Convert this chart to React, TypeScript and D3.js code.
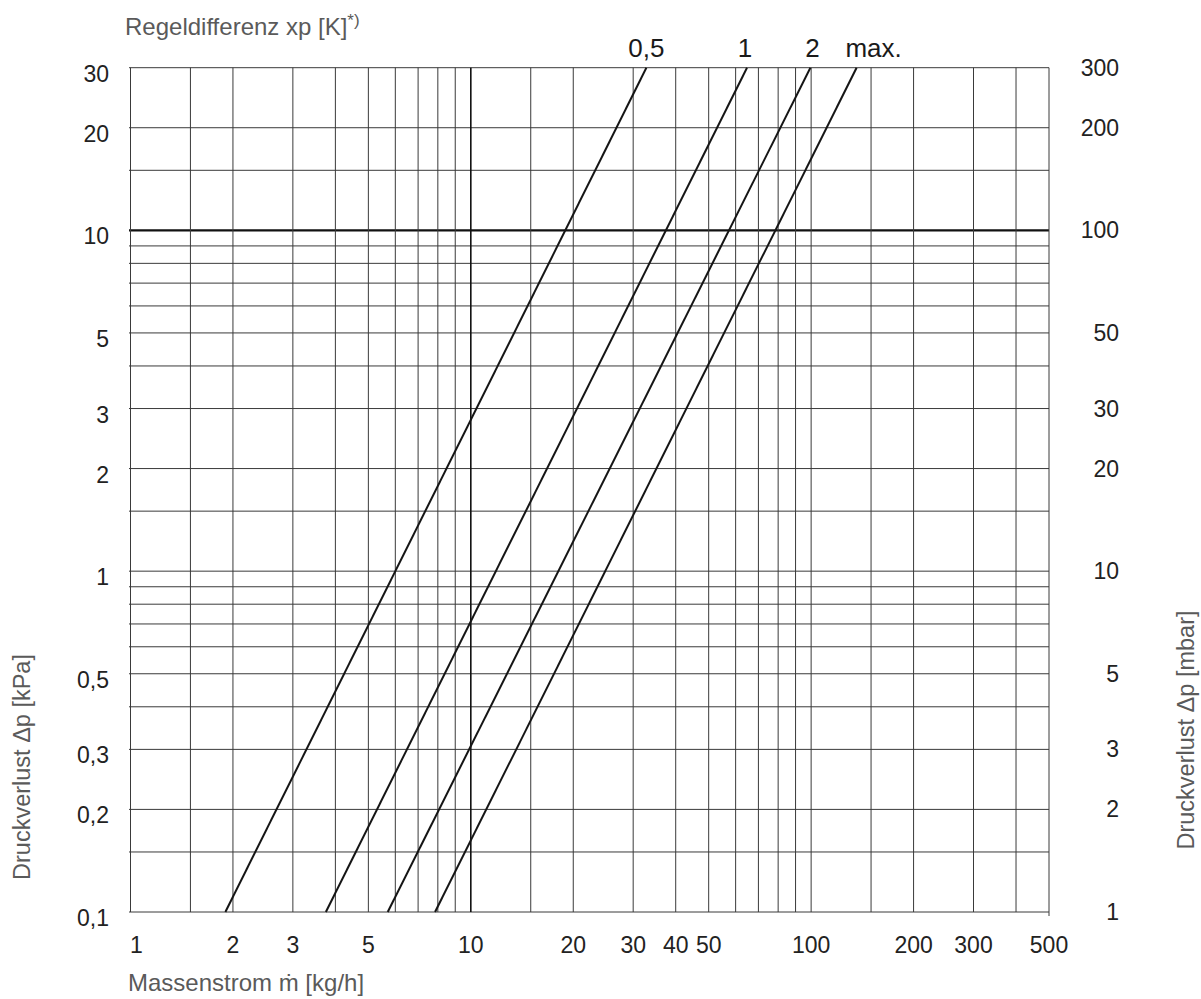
import React from "react";
import * as d3 from "d3";

// ---- data ----
const xGridValues = [1, 1.5, 2, 3, 4, 5, 6, 7, 8, 9, 10, 15, 20, 30, 40, 50, 60, 70, 80, 90, 100, 150, 200, 300, 400, 500];
const yGridValues = [0.1, 0.15, 0.2, 0.3, 0.4, 0.5, 0.6, 0.7, 0.8, 0.9, 1, 1.5, 2, 3, 4, 5, 6, 7, 8, 9, 10, 15, 20, 30];
const xTickValues = [1, 2, 3, 5, 10, 20, 30, 40, 50, 100, 200, 300, 500];
const yLeftTickValues = [0.1, 0.2, 0.3, 0.5, 1, 2, 3, 5, 10, 20, 30];
const yRightTickValues = [1, 2, 3, 5, 10, 20, 30, 50, 100, 200, 300]; // mbar
const seriesNames = ["0,5", "1", "2", "max."];
const flowAtMinDp = [1.9, 3.75, 5.7, 7.85]; // kg/h at 0.1 kPa
const flowAtMaxDp = [32.8, 64.8, 99.5, 136]; // kg/h at 30 kPa
const dpMin = 0.1;
const dpMax = 30;
const flowMin = 1;
const flowMax = 500;

// ---- layout ----
const W = 1201;
const H = 999;
const left = 130.5;
const right = 1049;
const top = 67.7;
const bottom = 912;
const FONT = "'Liberation Sans', Arial, Helvetica, sans-serif";
const labelDx = [0, -2, 2, 17];

const fmt = (v: number) => String(v).replace(".", ",");

export default function App() {
  const x = d3.scaleLog().domain([flowMin, flowMax]).range([left, right]);
  const y = d3.scaleLog().domain([dpMin, dpMax]).range([bottom, top]);
  const yMbar = d3.scaleLog().domain([dpMin * 10, dpMax * 10]).range([bottom, top]);
  const line = d3
    .line<[number, number]>()
    .x((d) => x(d[0]))
    .y((d) => y(d[1]));

  return (
    <svg
      width={W}
      height={H}
      style={{ position: "absolute", left: 0, top: 0, display: "block", background: "#fff" }}
      fontFamily={FONT}
    >
      <rect x={0} y={0} width={W} height={H} fill="#fff" />
      {/* horizontal grid */}
      {yGridValues.map((v) => (
        <line
          key={"h" + v}
          x1={left - 1.5}
          x2={right}
          y1={y(v)}
          y2={y(v)}
          stroke={v === 10 ? "#111" : "#3a3a3a"}
          strokeWidth={v === 10 ? 2.2 : 1}
        />
      ))}
      {/* vertical grid */}
      {xGridValues.map((v) => (
        <line
          key={"v" + v}
          x1={x(v)}
          x2={x(v)}
          y1={top}
          y2={v === flowMax ? bottom + 4 : bottom}
          stroke={v === 10 ? "#111" : "#3a3a3a"}
          strokeWidth={v === 10 ? 1.6 : 1}
        />
      ))}
      {/* curves */}
      {seriesNames.map((name, i) => (
        <path
          key={"s" + name}
          d={line([
            [flowAtMinDp[i], dpMin],
            [flowAtMaxDp[i], dpMax],
          ]) as string}
          fill="none"
          stroke="#151515"
          strokeWidth={2}
        />
      ))}
      {/* curve labels */}
      {seriesNames.map((name, i) => (
        <text
          key={"l" + name}
          x={x(flowAtMaxDp[i]) + labelDx[i]}
          y={57}
          textAnchor="middle"
          fontSize={26}
          fill="#1a1a1a"
        >
          {name}
        </text>
      ))}
      {/* left ticks */}
      {yLeftTickValues.map((v) => (
        <text key={"yl" + v} x={109} y={y(v) + 14} textAnchor="end" fontSize={23} fill="#222">
          {fmt(v)}
        </text>
      ))}
      {/* right ticks */}
      {yRightTickValues.map((v) => (
        <text key={"yr" + v} x={1119} y={yMbar(v) + 8} textAnchor="end" fontSize={23} fill="#222">
          {fmt(v)}
        </text>
      ))}
      {/* bottom ticks */}
      {xTickValues.map((v) => (
        <text
          key={"xt" + v}
          x={x(v) + (v === 1 ? 6 : 0)}
          y={953}
          textAnchor="middle"
          fontSize={23}
          fill="#222"
        >
          {fmt(v)}
        </text>
      ))}
      {/* titles */}
      <text x={125} y={35} fontSize={24} fill="#5a5a5a">
        Regeldifferenz xp [K]
        <tspan fontSize={17} dy={-9}>*)</tspan>
      </text>
      <text x={128} y={991} fontSize={24} fill="#5a5a5a">
        Massenstrom ṁ [kg/h]
      </text>
      <text
        transform={`translate(30, 767) rotate(-90)`}
        textAnchor="middle"
        fontSize={23.5}
        fill="#5a5a5a"
      >
        Druckverlust Δp [kPa]
      </text>
      <text
        transform={`translate(1194, 730) rotate(-90)`}
        textAnchor="middle"
        fontSize={23.5}
        fill="#5a5a5a"
      >
        Druckverlust Δp [mbar]
      </text>
    </svg>
  );
}
